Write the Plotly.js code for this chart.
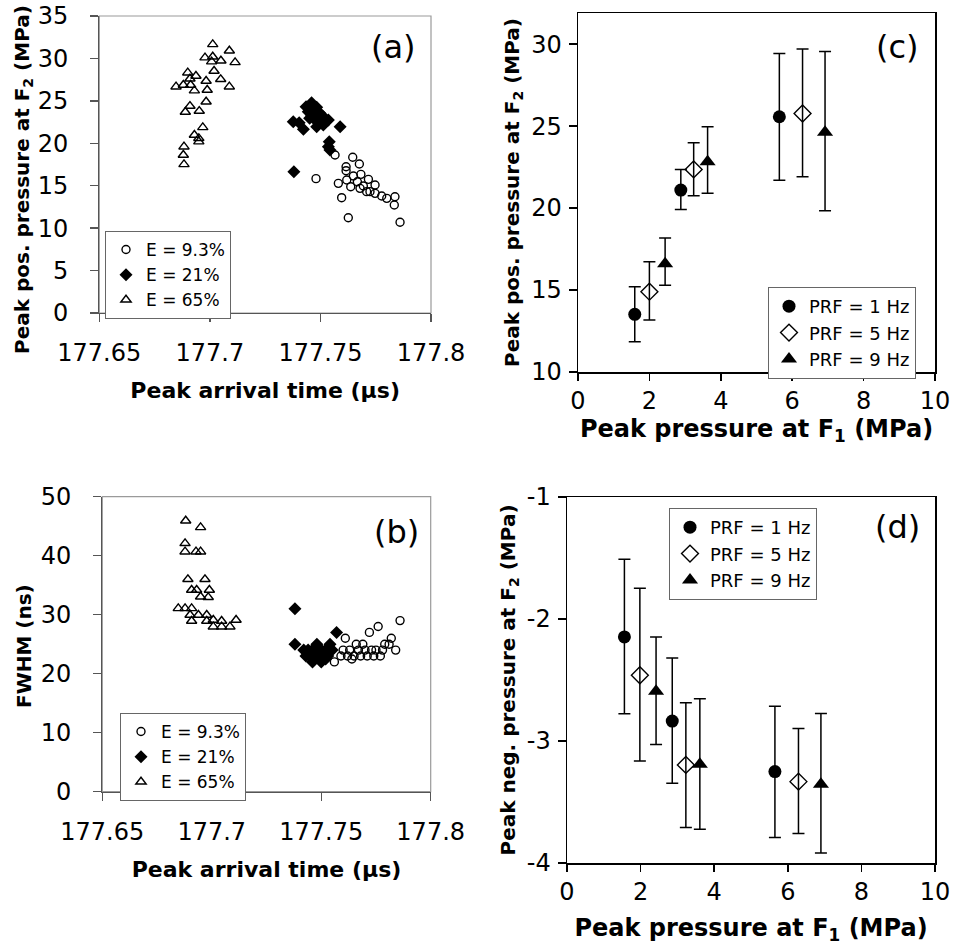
<!DOCTYPE html>
<html>
<head>
<meta charset="utf-8">
<script src="https://cdn.plot.ly/plotly-3.0.1.min.js"></script>
<style>html,body{margin:0;padding:0;background:#fff}#chart{width:955px;height:950px}</style>
</head>
<body>
<div id="chart"></div>
<script>
// ---------- Panel (a): peak positive pressure at F2 vs arrival time ----------
const aCircX = [177.7566,177.7646,177.7616,177.7676,177.7616,177.7480,177.7649,177.7683,177.7717,177.7619,177.7667,177.7637,177.7694,177.7747,177.7724,177.7679,177.7747,177.7777,177.7800,177.7837,177.7834,177.7596,177.7626,177.7860,177.7581,177.7709];
const aCircY = [18.62,18.35,17.24,17.56,16.77,15.83,16.14,16.34,15.75,15.67,15.47,14.88,14.97,15.08,14.30,14.69,14.10,13.79,13.51,13.70,12.73,13.59,11.23,10.69,15.28,14.30];
const aDiamX = [177.7460,177.7435,177.7483,177.7445,177.7468,177.7498,177.7513,177.7536,177.7451,177.7476,177.7498,177.7483,177.7513,177.7377,177.7423,177.7589,177.7540,177.7536,177.7543,177.7380,177.7460,177.7520,177.7404];
const aDiamY = [24.78,24.31,24.24,23.72,23.72,23.53,23.14,22.74,22.94,22.74,22.54,21.95,22.15,22.54,21.65,21.95,20.19,19.60,19.21,16.65,23.33,22.54,22.43];
const aTriX = [177.7013,177.7088,177.6978,177.7013,177.7050,177.7008,177.7114,177.7019,177.6900,177.6937,177.6910,177.7049,177.6983,177.6847,177.6880,177.6913,177.7088,177.6988,177.6930,177.6983,177.6910,177.6889,177.6952,177.6968,177.6930,177.6950,177.6950,177.6883,177.6880,177.6883];
const aTriY = [31.66,30.91,30.09,30.20,29.73,29.62,29.54,28.52,28.32,27.93,27.61,27.54,27.34,26.67,26.87,26.87,26.67,26.28,26.20,24.90,24.39,23.69,23.80,21.88,20.98,20.59,20.19,19.60,18.62,17.52];

// ---------- Panel (b): FWHM vs arrival time ----------
const bCircX = [177.756,177.759,177.762,177.761,177.763,177.765,177.766,177.767,177.768,177.769,177.770,177.771,177.772,177.773,177.774,177.775,177.776,177.777,177.778,177.779,177.781,177.782,177.784,177.786,177.760,177.764];
const bCircY = [22,23,23,26,24,23,25,24,23,25,24,23,27,24,23,24,28,23,24,25,25,26,24,29,24,22.5];
const bDiamX = [177.738,177.738,177.742,177.743,177.744,177.745,177.746,177.746,177.747,177.748,177.749,177.750,177.750,177.751,177.752,177.753,177.754,177.755,177.757,177.752];
const bDiamY = [31,25,24,23,24,23,22,24,23,25,23,24,22,23,24,23,25,24,27,22.5];
const bTriX = [177.6881,177.6949,177.6878,177.6878,177.6928,177.6949,177.6891,177.6969,177.6908,177.6931,177.6989,177.6949,177.6984,177.6847,177.6878,177.6908,177.6901,177.6939,177.6977,177.6908,177.6977,177.7007,177.7045,177.7111,177.7007,177.7045,177.7083];
const bTriY = [45.93,44.8,42.1,40.68,40.68,40.68,36.0,36.0,34.19,34.19,34.19,33.05,32.95,31.08,31.08,31.08,29.95,29.95,29.95,28.93,28.93,29.1,28.93,29.1,27.97,27.97,27.97];

const eLabels = ["E = 9.3%", "E = 21%", "E = 65%"];
const timeTicks = [177.65, 177.7, 177.75, 177.8];
const timeTickText = ["177.65", "177.7", "177.75", "177.8"];

// ---------- Panels (c),(d): vs peak pressure at F1 ----------
const prfLabels = ["PRF = 1 Hz", "PRF = 5 Hz", "PRF = 9 Hz"];
const cX1 = [1.59, 2.88, 5.64], cY1 = [13.52, 21.10, 25.57], cUp1 = [15.20, 22.36, 29.43], cLo1 = [11.85, 19.92, 21.69];
const cX5 = [2.00, 3.24, 6.29], cY5 = [14.90, 22.36, 25.77], cUp5 = [16.73, 23.98, 29.71], cLo5 = [13.17, 20.75, 21.91];
const cX9 = [2.44, 3.63, 6.92], cY9 = [16.60, 22.82, 24.62], cUp9 = [18.17, 24.96, 29.55], cLo9 = [15.29, 20.90, 19.84];
const dX1 = [1.56, 2.86, 5.65], dY1 = [-2.147, -2.837, -3.251], dUp1 = [-1.51, -2.319, -2.715], dLo1 = [-2.777, -3.347, -3.79];
const dX5 = [1.98, 3.23, 6.29], dY5 = [-2.461, -3.196, -3.333], dUp5 = [-1.747, -2.687, -2.897], dLo5 = [-3.164, -3.709, -3.758];
const dX9 = [2.42, 3.61, 6.90], dY9 = [-2.592, -3.191, -3.355], dUp9 = [-2.147, -2.654, -2.774], dLo9 = [-3.028, -3.723, -3.919];
const dTickVals = [-4, -3, -2, -1];
const dTickText = ["-4", "-3", "-2", "-1"];

const FONT = "DejaVu Sans, Verdana, sans-serif";
const W = 955, H = 950;
const px = (a, b) => [a / W, b / W];
const py = (top, bot) => [1 - bot / H, 1 - top / H];

function openMarker(sym, size) { return {symbol: sym, size: size, color: "rgba(0,0,0,0)", line: {color: "#000", width: 1.4}}; }
function fillMarker(sym, size) { return {symbol: sym, size: size, color: "#000", line: {color: "#000", width: 0}}; }

function errTrace(x, y, up, lo, name, marker, xa, ya, leg) {
  return {
    type: "scatter", mode: "markers", x: x, y: y, name: name, marker: marker,
    xaxis: xa, yaxis: ya, legend: leg,
    error_y: {type: "data", symmetric: false,
      array: y.map((v, i) => up[i] - v), arrayminus: y.map((v, i) => v - lo[i]),
      color: "#000", thickness: 1.5, width: 6}
  };
}

const traces = [
  {type: "scatter", mode: "markers", x: aCircX, y: aCircY, name: eLabels[0], marker: openMarker("circle", 8), xaxis: "x", yaxis: "y", legend: "legend"},
  {type: "scatter", mode: "markers", x: aDiamX, y: aDiamY, name: eLabels[1], marker: fillMarker("diamond", 10), xaxis: "x", yaxis: "y", legend: "legend"},
  {type: "scatter", mode: "markers", x: aTriX, y: aTriY, name: eLabels[2], marker: openMarker("triangle-up", 9), xaxis: "x", yaxis: "y", legend: "legend"},
  {type: "scatter", mode: "markers", x: bCircX, y: bCircY, name: eLabels[0], marker: openMarker("circle", 8), xaxis: "x2", yaxis: "y2", legend: "legend2"},
  {type: "scatter", mode: "markers", x: bDiamX, y: bDiamY, name: eLabels[1], marker: fillMarker("diamond", 10), xaxis: "x2", yaxis: "y2", legend: "legend2"},
  {type: "scatter", mode: "markers", x: bTriX, y: bTriY, name: eLabels[2], marker: openMarker("triangle-up", 9), xaxis: "x2", yaxis: "y2", legend: "legend2"},
  errTrace(cX1, cY1, cUp1, cLo1, prfLabels[0], fillMarker("circle", 13), "x3", "y3", "legend3"),
  errTrace(cX5, cY5, cUp5, cLo5, prfLabels[1], openMarker("diamond", 13), "x3", "y3", "legend3"),
  errTrace(cX9, cY9, cUp9, cLo9, prfLabels[2], fillMarker("triangle-up", 14), "x3", "y3", "legend3"),
  errTrace(dX1, dY1, dUp1, dLo1, prfLabels[0], fillMarker("circle", 13), "x4", "y4", "legend4"),
  errTrace(dX5, dY5, dUp5, dLo5, prfLabels[1], openMarker("diamond", 13), "x4", "y4", "legend4"),
  errTrace(dX9, dY9, dUp9, dLo9, prfLabels[2], fillMarker("triangle-up", 14), "x4", "y4", "legend4")
];

const tickFont = {family: FONT, size: 24, color: "#000"};
function tFont(size) { return {family: FONT, size: size, color: "#000", weight: "bold"}; }

function excelX(domain, anchor, title) {
  return {domain: domain, anchor: anchor, range: [177.65, 177.8], tickvals: timeTicks, ticktext: timeTickText,
    showline: true, linecolor: "#555", linewidth: 1.3, mirror: false, ticks: "outside", ticklen: 8, tickcolor: "#555", tickwidth: 1.3,
    showgrid: false, zeroline: false, tickfont: tickFont, ticklabelstandoff: 10,
    title: {text: title, font: tFont(22), standoff: 16}};
}
function excelY(domain, anchor, range, dtick) {
  return {domain: domain, anchor: anchor, range: range, dtick: dtick, tick0: 0,
    showline: true, linecolor: "#555", linewidth: 1.3, mirror: false, ticks: "outside", ticklen: 8, tickcolor: "#555", tickwidth: 1.3,
    showgrid: false, zeroline: false, tickfont: tickFont, ticklabelstandoff: 17};
}
function boxX(domain, anchor, title, standoff) {
  return {domain: domain, anchor: anchor, range: [0, 10], dtick: 2, tick0: 0,
    showline: true, linecolor: "#000", linewidth: 1.5, mirror: true, ticks: "outside", ticklen: 7, tickcolor: "#000", tickwidth: 1.5,
    showgrid: false, zeroline: false, tickfont: tickFont, ticklabelstandoff: 0,
    title: {text: title, font: tFont(24), standoff: standoff}};
}
function boxY(domain, anchor, range, extra, title) {
  return Object.assign({domain: domain, anchor: anchor, range: range,
    showline: true, linecolor: "#000", linewidth: 1.5, mirror: true, ticks: "outside", ticklen: 8, tickcolor: "#000", tickwidth: 1.5,
    showgrid: false, zeroline: false, tickfont: tickFont, ticklabelstandoff: 2,
    title: {text: title, font: tFont(20), standoff: 6}}, extra);
}

function legendBox(x, yTop, size) {
  return {x: x, y: yTop, xanchor: "left", yanchor: "top", bgcolor: "#fff", bordercolor: "#666", borderwidth: 1,
    font: {family: FONT, size: size, color: "#000"}, itemwidth: 30, tracegroupgap: 0};
}

function vTitle(text, xPx, yPx) {
  return {text: text, xref: "paper", yref: "paper", x: xPx / W, y: 1 - yPx / H, xanchor: "center", yanchor: "middle",
    textangle: -90, showarrow: false, font: tFont(20)};
}
function panelLabel(text, xPx, yPx) {
  return {text: text, xref: "paper", yref: "paper", x: xPx / W, y: 1 - yPx / H, xanchor: "center", yanchor: "middle",
    showarrow: false, font: {family: FONT, size: 32, color: "#000"}};
}

const layout = {
  width: W, height: H, margin: {l: 0, r: 0, t: 0, b: 0},
  paper_bgcolor: "#fff", plot_bgcolor: "#fff", showlegend: true,
  font: {family: FONT, color: "#000"},
  xaxis: excelX(px(99.3, 431), "y", "Peak arrival time (μs)"),
  yaxis: excelY(py(16, 313), "x", [0, 35], 5),
  xaxis2: excelX(px(102.3, 430.7), "y2", "Peak arrival time (μs)"),
  yaxis2: excelY(py(496.7, 791.7), "x2", [0, 50], 10),
  xaxis3: boxX(px(578, 935), "y3", "Peak pressure at F<sub>1</sub> (MPa)", 2),
  yaxis3: boxY(py(13, 372), "x3", [10, 31.9], {dtick: 5, tick0: 10}, "Peak pos. pressure at F<sub>2</sub> (MPa)"),
  xaxis4: boxX(px(567, 935), "y4", "Peak pressure at F<sub>1</sub> (MPa)", 14),
  yaxis4: boxY(py(497, 863), "x4", [-4, -1], {tickvals: dTickVals, ticktext: dTickText}, "Peak neg. pressure at F<sub>2</sub> (MPa)"),
  legend: legendBox(105 / W, 1 - 231 / H, 17),
  legend2: legendBox(120 / W, 1 - 713 / H, 17),
  legend3: legendBox(768 / W, 1 - 287 / H, 18),
  legend4: legendBox(669 / W, 1 - 508 / H, 18),
  shapes: [
    {type: "rect", xref: "x domain", yref: "y domain", x0: 0, x1: 1, y0: 0, y1: 1, line: {color: "#9a9a9a", width: 1.2}, layer: "below"},
    {type: "rect", xref: "x2 domain", yref: "y2 domain", x0: 0, x1: 1, y0: 0, y1: 1, line: {color: "#9a9a9a", width: 1.2}, layer: "below"}
  ],
  annotations: [
    vTitle("Peak pos. pressure at F<sub>2</sub> (MPa)", 23, 180),
    vTitle("FWHM (ns)", 24, 646),
    panelLabel("(a)", 393, 47),
    panelLabel("(b)", 396, 532),
    panelLabel("(c)", 897, 47),
    panelLabel("(d)", 897, 527)
  ]
};

Plotly.newPlot("chart", traces, layout, {displayModeBar: false, staticPlot: true});
</script>
</body>
</html>
